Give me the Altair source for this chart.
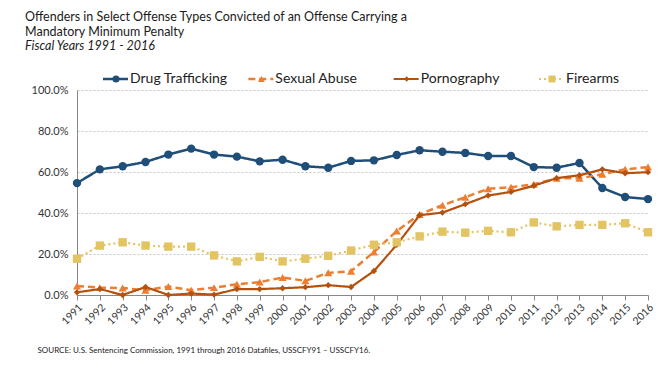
import altair as alt
import pandas as pd

years = list(range(1991, 2017))
series_names = ["Drug Trafficking", "Sexual Abuse", "Pornography", "Firearms"]

drug = [54.6, 61.3, 62.8, 64.9, 68.5, 71.4, 68.5, 67.5, 65.2, 66.0, 62.8, 62.1, 65.4,
        65.7, 68.3, 70.6, 69.9, 69.3, 67.8, 67.8, 62.4, 62.1, 64.4, 52.2, 47.8, 46.8]
sexual = [4.4, 3.6, 3.4, 2.3, 4.1, 2.3, 3.6, 5.2, 6.3, 8.5, 6.9, 10.8, 11.6,
          21.0, 31.2, 39.3, 43.8, 47.7, 51.8, 52.6, 54.0, 56.9, 56.9, 58.9, 61.3, 62.4]
porn = [1.3, 2.9, 0.0, 3.9, 0.0, 0.7, 0.2, 2.9, 2.9, 3.3, 3.8, 4.8, 3.9,
        11.7, 24.5, 38.9, 40.2, 44.3, 48.5, 50.3, 53.3, 57.0, 58.4, 61.3, 59.4, 59.9]
firearms = [17.7, 24.1, 25.7, 24.1, 23.6, 23.6, 19.3, 16.4, 18.6, 16.4, 17.7, 19.1, 21.7,
            24.5, 25.7, 28.6, 30.9, 30.4, 31.3, 30.6, 35.4, 33.5, 34.2, 34.2, 35.0, 30.6]
y_ticks = [0, 20, 40, 60, 80, 100]

values = [drug, sexual, porn, firearms]
rows = []
for name, vals in zip(series_names, values):
    for yr, v in zip(years, vals):
        rows.append({"series": name, "year": yr, "pct": v})
df = pd.DataFrame(rows)
legend_df = pd.DataFrame({"series": series_names})

FONT = "Lato"
colors = ["#1F4E79", "#ED7D31", "#B5510F", "#E2C462"]
dashes = [[1, 0], [7, 4], [1, 0], [2, 3]]
shapes = ["circle", "triangle-up", "diamond", "square"]
sizes = [70, 65, 40, 70]
widths = [2.5, 2.5, 2.2, 2.2]

x_enc = alt.X("year:Q", scale=alt.Scale(domain=[1991, 2016], nice=False, zero=False),
              axis=alt.Axis(values=years, format="d", labelAngle=-45, labelFont=FONT,
                            labelFontSize=10.5, labelColor="#333", domainColor="#888",
                            tickColor="#888", tickSize=5, grid=False, labelPadding=2,
                            labelOverlap=False, labelBound=False, labelFlush=False,
                            title="SOURCE:  U.S. Sentencing Commission, 1991 through 2016 Datafiles, USSCFY91  \u2013 USSCFY16.",
                            titleFont=FONT, titleFontSize=8, titleFontWeight="normal",
                            titleColor="#222", titleAnchor="start", titleAlign="left",
                            titleX=-40, titleY=55, titleBaseline="middle"))
y_enc = alt.Y("pct:Q", scale=alt.Scale(domain=[0, 100]),
              axis=alt.Axis(values=y_ticks, labelExpr="format(datum.value, '.1f') + '%'",
                            labelFont=FONT, labelFontSize=11, labelColor="#333",
                            domainColor="#888", ticks=False, labelPadding=9,
                            grid=True, gridDash=[2, 2], gridColor="#c4c4c4", title=None))

main_layers = []
for i, name in enumerate(series_names):
    base = alt.Chart(df).transform_filter(alt.datum.series == name)
    line = base.mark_line(color=colors[i], strokeWidth=widths[i], strokeDash=dashes[i]).encode(
        x=x_enc, y=y_enc)
    pts = base.mark_point(filled=True, opacity=1, color=colors[i], shape=shapes[i],
                          size=sizes[i]).encode(x=x_enc, y=y_enc)
    main_layers += [line, pts]

lx = alt.X("series:N", scale=alt.Scale(type="point", domain=series_names, range=[39, 475],
                                        padding=0),
           axis=None)
legend_layers = []
for i, name in enumerate(series_names):
    base = alt.Chart(legend_df).transform_filter(alt.datum.series == name)
    rule = base.mark_rule(color=colors[i], strokeWidth=widths[i], strokeDash=dashes[i],
                          xOffset=-13, x2Offset=12).encode(x=lx, x2="series:N", y=alt.value(-11))
    pt = base.mark_point(filled=True, opacity=1, color=colors[i], shape=shapes[i],
                         size=sizes[i] * 0.7).encode(x=lx, y=alt.value(-11))
    txt = base.mark_text(align="left", baseline="middle", dx=14, font=FONT, fontSize=14,
                         color="#222").encode(x=lx, y=alt.value(-11), text="series:N")
    legend_layers += [rule, pt, txt]

main = alt.layer(*main_layers)
legend = alt.layer(*legend_layers)

chart = alt.layer(main, legend).resolve_scale(x="independent").properties(
    width=571, height=205,
    padding={"left": 17, "top": 2, "right": 5, "bottom": 5},
    title=alt.TitleParams(
        text=["Offenders in Select Offense Types Convicted of an Offense Carrying a",
              "Mandatory Minimum Penalty"],
        subtitle="Fiscal Years 1991 - 2016",
        anchor="start", frame="group", dx=-52, offset=20,
        font=FONT, fontSize=12.5, fontWeight="normal", color="#1a1a1a", lineHeight=15.5,
        subtitleFont=FONT, subtitleFontSize=12.5, subtitleFontStyle="italic",
        subtitleColor="#1a1a1a", subtitlePadding=1),
    background="white",
).configure_view(stroke=None)

chart.save("out.html", embed_options={"renderer": "svg", "actions": False})
